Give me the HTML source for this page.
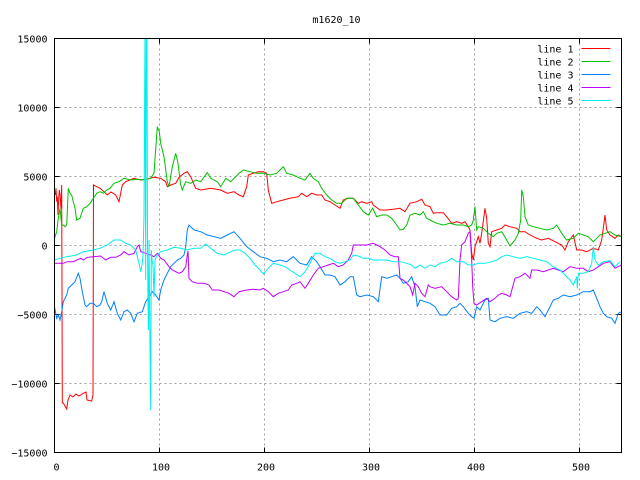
<!DOCTYPE html>
<html><head><meta charset="utf-8"><style>
html,body{margin:0;padding:0;background:#fff;}
svg{display:block;}
text{font-family:"DejaVu Sans Mono","Liberation Mono",monospace;font-size:10px;fill:#000;}
</style></head><body>
<svg width="640" height="480" viewBox="0 0 640 480" xmlns="http://www.w3.org/2000/svg">
<defs><clipPath id="pa"><rect x="54.5" y="38.5" width="567" height="414"/></clipPath></defs>
<rect width="640" height="480" fill="#fff"/>
<!-- grid -->
<g stroke="#a0a0a0" stroke-width="1" stroke-dasharray="2,3" shape-rendering="crispEdges">
<line x1="159.5" y1="38.5" x2="159.5" y2="452.5"/>
<line x1="264.5" y1="38.5" x2="264.5" y2="452.5"/>
<line x1="369.5" y1="38.5" x2="369.5" y2="452.5"/>
<line x1="474.5" y1="38.5" x2="474.5" y2="452.5"/>
<line x1="579.5" y1="38.5" x2="579.5" y2="452.5"/>
<line x1="54.5" y1="107.5" x2="621.5" y2="107.5"/>
<line x1="54.5" y1="176.5" x2="621.5" y2="176.5"/>
<line x1="54.5" y1="245.5" x2="621.5" y2="245.5"/>
<line x1="54.5" y1="314.5" x2="621.5" y2="314.5"/>
<line x1="54.5" y1="383.5" x2="621.5" y2="383.5"/>
</g>
<!-- ticks -->
<g stroke="#000" stroke-width="1" shape-rendering="crispEdges">
<line x1="54.5" y1="38.5" x2="59.5" y2="38.5"/><line x1="616.5" y1="38.5" x2="621.5" y2="38.5"/>
<line x1="54.5" y1="107.5" x2="59.5" y2="107.5"/><line x1="616.5" y1="107.5" x2="621.5" y2="107.5"/>
<line x1="54.5" y1="176.5" x2="59.5" y2="176.5"/><line x1="616.5" y1="176.5" x2="621.5" y2="176.5"/>
<line x1="54.5" y1="245.5" x2="59.5" y2="245.5"/><line x1="616.5" y1="245.5" x2="621.5" y2="245.5"/>
<line x1="54.5" y1="314.5" x2="59.5" y2="314.5"/><line x1="616.5" y1="314.5" x2="621.5" y2="314.5"/>
<line x1="54.5" y1="383.5" x2="59.5" y2="383.5"/><line x1="616.5" y1="383.5" x2="621.5" y2="383.5"/>
<line x1="54.5" y1="452.5" x2="59.5" y2="452.5"/><line x1="616.5" y1="452.5" x2="621.5" y2="452.5"/>
<line x1="159.5" y1="452.5" x2="159.5" y2="447.5"/><line x1="159.5" y1="38.5" x2="159.5" y2="43.5"/>
<line x1="264.5" y1="452.5" x2="264.5" y2="447.5"/><line x1="264.5" y1="38.5" x2="264.5" y2="43.5"/>
<line x1="369.5" y1="452.5" x2="369.5" y2="447.5"/><line x1="369.5" y1="38.5" x2="369.5" y2="43.5"/>
<line x1="474.5" y1="452.5" x2="474.5" y2="447.5"/><line x1="474.5" y1="38.5" x2="474.5" y2="43.5"/>
<line x1="579.5" y1="452.5" x2="579.5" y2="447.5"/><line x1="579.5" y1="38.5" x2="579.5" y2="43.5"/>
</g>
<!-- labels -->
<g text-anchor="end">
<text x="47.5" y="42.5">15000</text>
<text x="47.5" y="111.5">10000</text>
<text x="47.5" y="180.5">5000</text>
<text x="47.5" y="249.5">0</text>
<text x="47.5" y="318.5">−5000</text>
<text x="47.5" y="387.5">−10000</text>
<text x="47.5" y="456.5">−15000</text>
</g>
<g text-anchor="middle">
<text x="56.5" y="470.5">0</text>
<text x="161" y="470.5">100</text>
<text x="266" y="470.5">200</text>
<text x="371" y="470.5">300</text>
<text x="476" y="470.5">400</text>
<text x="581" y="470.5">500</text>
<text x="336.5" y="23">m1620_10</text>
</g>
<!-- series -->
<g clip-path="url(#pa)" fill="none" stroke-width="1" stroke-linejoin="miter">
<polyline stroke="#ff0000" points="55.3,195 56,188.3 56.7,201.7 57.3,196.7 58,215 58.7,198.3 59.3,190 60,195 61,208.3 61.7,185 62.3,403 63.3,403 66.7,409 68,400 70,395 73,397 76,394 79,396 82,394 86,392 87,400 91.7,401 93,395 93.5,185 96.7,186.7 100,188.3 104,191.7 107.3,195 111,192 115.7,195 119,201.7 122.3,185 125.7,181.7 130,180 134,178.3 140.7,180 147.3,179 154,177.3 160.7,178.3 165.7,181.7 167.3,186.7 170.7,185 175.7,183.3 179,177.3 184,173.3 187.3,171.7 190.7,176.7 195.7,188.3 200.7,190 210.7,188.3 220.7,190 227.3,193.3 234,191.7 239,195 243.3,196.7 246.7,186.7 248.3,175 253.3,173.3 258.3,171.7 263.3,171.7 266.7,173.3 268.3,190 271.7,203.3 276.7,201.7 283.3,200 290,198.3 298.3,196.7 301.7,193.3 306.7,196.7 311.7,193.3 316.7,195 321.7,195 325,200 330,201.7 335,205 340,208.3 343.3,200 348.3,198.3 353.3,198.3 358.3,203.3 361.7,201.7 366.7,203.3 371.7,201.7 373.3,205 380,210 386.7,210 393.3,209.3 400,208.3 405,211.7 410,203.3 416.7,201.7 421.7,199.3 425,205 430,206.7 433.3,213.3 436.7,212.7 443.3,212.7 446.7,216.7 451.7,223.3 456.7,221.7 461.7,223.3 465,221.7 468.3,226.7 470,230 471.7,253.3 473.3,260 475,246.7 478.3,236.7 480,243.3 481.7,233.3 485,208.3 486.7,218.3 488.3,243.3 490,246.7 491.7,231.7 496.7,230 501.7,228.3 505,225 510,226.7 516.7,228.3 520,231.7 525,231.7 530,235 536.7,238.3 541.7,240 548.3,238.3 555,241.7 561.7,245 565,250 568.3,241.7 573.3,235 576.7,250 581.7,250 586.7,251.7 593.3,248.3 598.3,250 601.7,240 603.3,228.3 605,215 606.7,230 610,235 615,238.3 618.3,235 621.5,236.7"/>
<polyline stroke="#00c000" points="54.5,238.3 56.7,231.7 58.3,218.3 60,208.3 61.7,225 63.3,225 65,226.7 66.7,225 68.3,188.3 70,193.3 71.7,195 73.3,201.7 75,208.3 76.7,220 80,218.3 83.3,208.3 86.7,206.7 90,203.3 93.3,198.3 96.7,193.3 100,191.7 103.3,193.3 106.7,190 110,188.3 114,183.3 119,181.7 124,178.3 130.7,180 137.3,179.3 144,180 150.7,178.3 154,173.3 157.3,126.7 159.3,131.7 160.7,143.3 164,156.7 167.3,181.7 169,186.7 172.3,166.7 175.7,153.3 178,163.3 180.7,185 182.3,190 185.7,181.7 190.7,183.3 195.7,180 200.7,181.7 207.3,172.7 210.7,178.3 217.3,181.7 220.7,186.7 225.7,178.3 230.7,181.7 235.7,176.7 239,173.3 243.3,170 250,171.7 256.7,173.3 263.3,173.3 270,175 276.7,173.3 280,170 283.3,166.7 286.7,173.3 293.3,175 300,178.3 305,180 310,173.3 313.3,178.3 318.3,181.7 321.7,188.3 326.7,195 331.7,200 336.7,203.3 341.7,203.3 346.7,198.3 353.3,198.3 358.3,205 363.3,211.7 368.3,215 372.7,208.3 376.7,216.7 381.7,215 386.7,215 391.7,218.3 396.7,225 400,230 403.3,229.3 406.7,225 410,215 415,213.3 420,215 423.3,211.7 426.7,218.3 430,220 436.7,223.3 443.3,225 450,223.3 456.7,225 463.3,225 468.3,226.7 471.7,225 473.3,220 475,206.7 476.7,230 478.3,226.7 483.3,228.3 488.3,233.3 493.3,236.7 496.7,233.3 501.7,231.7 506.7,240 510,246 515,240 518.3,233.3 520.7,220 521.7,190 523.3,196.7 525,216.7 528.3,225 533.3,226.7 540,228.3 546.7,230 553.3,228.3 556.7,225 561.7,233.3 566.7,240 573.3,238.3 578.3,233.3 583.3,235 588.3,236.7 593.3,241.7 596.7,238.3 600,235 605,233.3 610,231.7 615,235 621.5,236.7"/>
<polyline stroke="#0080ff" points="54.5,306.7 56.7,318.3 58.3,315 60,320 61.7,311.7 63.3,301.7 65,298.3 66.7,295 68.3,288.3 71.7,285 75,281.7 78.3,273.3 80,278.3 81.7,288.3 83.3,296.7 85,305 86.7,306.7 90,303.3 93.3,303.3 96.7,306.7 100,305 101.7,301.7 104,291.7 107.3,303.3 110.7,310 114,301.7 117.3,313.3 120.7,320 124,311.7 127.3,310 130.7,313.3 134,321.7 137.3,313.3 142.3,311.7 145.7,301.7 149,296.7 152.3,291.7 155.7,295 159,300 160.7,290 164,280 167.3,273.3 170.7,266.7 174,263.3 177.3,260 180.7,258.3 184,255 185.7,246.7 187.3,230 189,225 194,230 200.7,231.7 207.3,235 214,236.7 220.7,238.3 227.3,235 234,231.7 240,238.3 246.7,246.7 253.3,251.7 260,256.7 266.7,258.3 273.3,261.7 280,260 286.7,261.7 293.3,256.7 300,263.3 306.7,265 311.7,256.7 316.7,261.7 320,266.7 325,275 330,275 335,276.7 340,285 345,281.7 350,276.7 353.3,276.7 356.7,295 360,296.7 366.7,295 373.3,296.7 378.3,301.7 381.7,276.7 386.7,278.3 391.7,276.7 396.7,275 400,278.3 403.3,283.3 408.3,281.7 411.7,276.7 415,286.7 417.3,306.7 420,300 425,301.7 430,303.3 435,306.7 440,315 446.7,315 451.7,308.3 456.7,306.7 460,303.3 463.3,306.7 468.3,313.3 471.7,316.7 474,318.3 476.7,306.7 480,310 485,300 488.3,298.3 490,320 495,321.7 500,318.3 506.7,316.7 513.3,318.3 520,313.3 526.7,311.7 531.7,313.3 536.7,306.7 540,310 545,316.7 548.3,310 553.3,300 558.3,298.3 563.3,295 570,296.7 576.7,295 583.3,291.7 590,291.7 593.3,290 596.7,298.3 600,306.7 603.3,313.3 606.7,316.7 611.7,318.3 615,323.3 618.3,313.3 621.5,311.7"/>
<polyline stroke="#c000ff" points="54.5,263.3 60.7,263.3 63.3,263.3 67.3,261.7 73.3,261.7 80.7,258.3 83.3,260 87.3,257.3 93.3,256.7 100.7,256 105.7,260 110.7,257.3 115.7,257.3 120.7,255 124,251.7 129,255 134,253.3 137.3,246.7 139,245 140.7,251.7 145.7,253.3 150.7,255 154,256.7 157.3,253.3 160.7,258.3 164,260 169,266.7 172.3,270 175.7,271.7 179,273.3 182.3,271.7 185.7,266.7 187.3,255 188,251 189,278.3 192.3,281.7 197.3,283.3 204,283.3 209,285 212.3,290 219,290 224,291.7 229,293.3 234,296.7 239,291.7 246.7,290 253.3,289.3 260,290 263.3,288.3 268.3,291.7 273.3,296.7 278.3,293.3 283.3,291.7 288.3,290 291.7,285 296.7,283.3 300,281.7 305,288.3 308.3,283.3 313.3,275 318.3,268.3 323.3,266.7 328.3,265 333.3,263.3 338.3,266.7 343.3,265 348.3,260 351.7,253.3 353.3,245 360,245 366.7,245 373.3,243.3 380,246.7 385,250 390,255 395,256.7 398.3,256.7 400,278.3 403.3,280 406.7,283.3 410,286.7 412.7,295 415,283.3 418.3,286.7 421.7,293.3 425,296.7 428.3,285 430,286.7 435,288.3 441.7,286.7 446.7,291.7 451.7,296.7 456.7,300 458.3,298.3 460,260 461.7,245 465,241.7 468.3,233.3 470,231.7 471.7,260 472.7,286.7 474,303.3 476.7,305 481.7,301.7 486.7,298.3 490,301.7 495,298.3 498.3,295 501.7,293.3 506.7,295 510,296.7 512.7,286.7 515,278.3 520,276.7 525,273.3 530,278.3 531.7,270 536.7,270 543.3,271.7 548.3,270 553.3,268.3 558.3,270 563.3,271.7 570,266.7 576.7,268.3 583.3,268.3 588.3,271.7 593.3,270 598.3,266.7 603.3,263.3 610,261.7 615,268.3 621.5,265"/>
<polyline stroke="#00eeee" points="54.5,260 60,258.3 66.7,256.7 76.7,255 83.3,251.7 93.3,250 100,248.3 107.3,245 114,240 120.7,240 125.7,243.3 130.7,245 135.7,250 139,263.3 140.7,271.7 142.3,263.3 143,255 144,216 145,30 145.7,280 146.3,30 147,30 147.5,245 148,300 148.5,330 149,240 150,345 150.7,410 151.3,250 152,260 153,265 154,296.7 155,260 157.3,255 160.7,251.7 167.3,250 174,247.3 180.7,248.3 187.3,250 194,248.3 200.7,248.3 205.7,244 210.7,248.3 217.3,253.3 224,255 230.7,251.7 235.7,250 240,250 245,253.3 250,258.3 255,265 260,270 263.3,274 268.3,268.3 273.3,263.3 280,265 285,266.7 290,270 295,273.3 300,276.7 305,271.7 310,263.3 315,253.3 320,253.3 325,256.7 330,258.3 335,261.7 340,263.3 345,261.7 350,260 353.3,255 358.3,256 363.3,258.3 368.3,258.3 373.3,260 380,260 386.7,260 393.3,261.7 400,261.7 406.7,263.3 411.7,265 415,268.3 420,265 425,268.3 430,265 435,266.7 440,263.3 446.7,261.7 451.7,258.3 456.7,261.7 463.3,261.7 468.3,265 473.3,265 478.3,263.3 485,263.3 491.7,261.7 496.7,260 501.7,256.7 506.7,255 513.3,256.7 520,258.3 526.7,256.7 533.3,258.3 540,260 546.7,261.7 553.3,266.7 560,270 565,275 570,280 573.3,285 576.7,276.7 577.3,288.3 578.3,273.3 583.3,273.3 588.3,271.7 591.7,263.3 593.3,246.7 595,260 598.3,265 603.3,261.7 610,260.7 615,266.7 620,261.7"/>
</g>
<!-- border -->
<rect x="54.5" y="38.5" width="567" height="414" fill="none" stroke="#000" stroke-width="1" shape-rendering="crispEdges"/>
<!-- legend -->
<g text-anchor="end">
<text x="573.5" y="52.5">line 1</text>
<text x="573.5" y="65.5">line 2</text>
<text x="573.5" y="78.5">line 3</text>
<text x="573.5" y="91.5">line 4</text>
<text x="573.5" y="104.5">line 5</text>
</g>
<g stroke-width="1" shape-rendering="crispEdges">
<line x1="581.5" y1="48.5" x2="610.5" y2="48.5" stroke="#ff0000"/>
<line x1="581.5" y1="61.5" x2="610.5" y2="61.5" stroke="#00c000"/>
<line x1="581.5" y1="74.5" x2="610.5" y2="74.5" stroke="#0080ff"/>
<line x1="581.5" y1="87.5" x2="610.5" y2="87.5" stroke="#c000ff"/>
<line x1="581.5" y1="100.5" x2="610.5" y2="100.5" stroke="#00eeee"/>
</g>
</svg>
</body></html>
